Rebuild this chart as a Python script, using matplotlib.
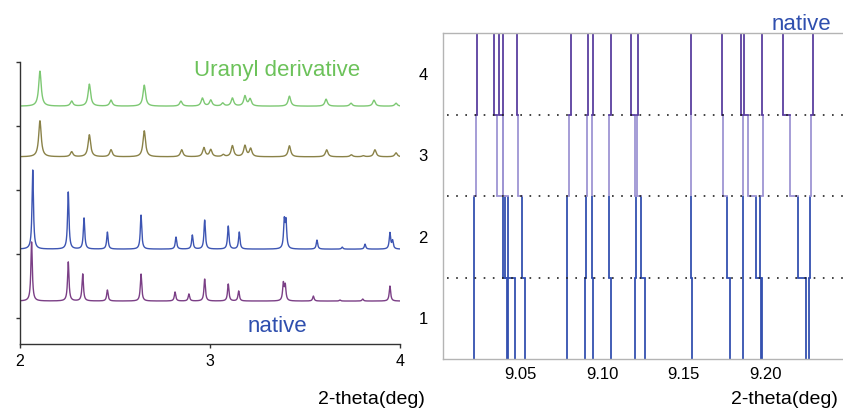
import numpy as np
import matplotlib.pyplot as plt

plt.rcParams['font.family'] = ['Liberation Sans', 'DejaVu Sans']

# ---- left panel: powder patterns (peak 2-theta, peak height in counts) ----
uranyl_pos = [2.105, 2.272, 2.365, 2.479, 2.654, 2.847, 2.960, 3.004, 3.067,
              3.118, 3.184, 3.211, 3.418, 3.611, 3.742, 3.863, 3.979]
uranyl_h = [35, 5, 22, 6, 21, 5, 8, 6, 3, 8, 10, 7, 10, 7, 3, 6, 3]

olive_pos = [2.105, 2.272, 2.365, 2.479, 2.654, 2.851, 2.968, 3.004, 3.070,
             3.118, 3.184, 3.214, 3.418, 3.614, 3.744, 3.807, 3.868, 3.979]
olive_h = [36, 5, 22, 7, 26, 7, 9, 7, 2, 11, 11, 8, 11, 7, 2, 1, 7, 4]

blue_pos = [2.067, 2.254, 2.337, 2.460, 2.637, 2.821, 2.907, 2.972, 3.096,
            3.154, 3.391, 3.400, 3.563, 3.696, 3.816, 3.947, 3.961]
blue_h = [79, 57, 31, 17, 34, 12, 14, 29, 23, 17, 27, 26, 9, 2, 5, 16, 8]

native_pos = [2.061, 2.254, 2.330, 2.460, 2.637, 2.816, 2.889, 2.972, 3.096,
              3.151, 3.386, 3.396, 3.544, 3.684, 3.804, 3.947]
native_h = [59, 39, 27, 11, 27, 9, 7, 22, 17, 10, 17, 15, 5, 1, 2, 15]

# ---- right panel: peak positions per row (rows 1..4), one entry per track ----
row1 = [9.0216, 9.0415, 9.0426, 9.0468, 9.0527, 9.0786, 9.0893, 9.0945, 9.1054,
        9.1201, 9.1264, 9.1552, 9.1783, 9.1861, 9.1971, 9.1981, 9.2247, 9.2269]
row2 = [9.0216, 9.0395, 9.0407, 9.0425, 9.0507, 9.0786, 9.0901, 9.0936, 9.1044,
        9.1207, 9.1235, 9.1542, 9.1762, 9.1861, 9.1942, 9.1967, 9.2202, 9.2273]
row3 = [9.0225, 9.0357, 9.0394, 9.0394, 9.0486, 9.0795, 9.0905, 9.0936, 9.1044,
        9.1201, 9.1213, 9.1542, 9.1742, 9.1861, 9.1892, 9.1983, 9.2151, 9.2279]
row4 = [9.0235, 9.0337, 9.0368, 9.0394, 9.0476, 9.0807, 9.0911, 9.0945, 9.1054,
        9.1175, 9.1221, 9.1544, 9.1734, 9.1851, 9.1869, 9.1981, 9.2110, 9.2292]
row_labels = ['1', '2', '3', '4']
x_ticks = [9.05, 9.10, 9.15, 9.20]


def pattern(x, pos, h, w):
    y = np.zeros_like(x)
    for p, a in zip(pos, h):
        y += a / (1 + ((x - p) / w) ** 2)
    return y


fig = plt.figure(figsize=(8.43, 4.08), dpi=100)

# left
ax1 = fig.add_axes([20 / 843, 64 / 408, 380 / 843, 282 / 408])
x = np.linspace(2, 4, 4000)
scale = 1 / 64.0
traces = [
    (uranyl_pos, uranyl_h, 0.008, 3.31, '#7dc873'),
    (olive_pos, olive_h, 0.008, 2.52, '#8a8248'),
    (blue_pos, blue_h, 0.0045, 1.08, '#3d55b3'),
    (native_pos, native_h, 0.0045, 0.27, '#7b3f86'),
]
for pos, h, w, off, col in traces:
    ax1.plot(x, off + pattern(x, pos, h, w) * scale, color=col, lw=1.0)

ax1.set_xlim(2, 4)
ax1.set_ylim(-0.4, 4.0)
ax1.set_xticks([2, 3, 4])
ax1.set_yticks([0, 1, 2, 3, 4])
ax1.set_yticklabels([])
ax1.spines['top'].set_visible(False)
ax1.spines['right'].set_visible(False)
for s in ('left', 'bottom'):
    ax1.spines[s].set_color('#333333')
    ax1.spines[s].set_linewidth(1.0)
ax1.tick_params(axis='both', direction='out', length=3, width=1.0,
                color='#333333', labelsize=11.5, pad=4)
ax1.text(3.353, 3.78, 'Uranyl derivative', color='#6cc25a', fontsize=16,
         ha='center', va='baseline')
ax1.text(3.353, -0.22, 'native', color='#2f4fae', fontsize=16,
         ha='center', va='baseline')

# right
ax2 = fig.add_axes([443 / 843, 49 / 408, 400 / 843, 326 / 408])
row_cols = ['#3450b0', '#3450b0', '#9e95d3', '#5b3f9f']
rows = [row1, row2, row3, row4]
for k, (r, col) in enumerate(zip(rows, row_cols)):
    ax2.vlines(r, k, k + 1, colors=col, lw=1.3)
    if k > 0:
        # small jog joining this row's track to the row below
        for xa, xb in zip(rows[k - 1], r):
            ax2.plot([xa, xb], [k, k], color=col, lw=1.3)
for k in (1, 2, 3):
    ax2.axhline(k, xmin=0.01, xmax=1, color='#222222', lw=1.2,
                linestyle=(0, (1, 4.5)))

ax2.set_xlim(9.0025, 9.2475)
ax2.set_ylim(0, 4)
ax2.set_xticks(x_ticks)
ax2.set_xticklabels(['%.2f' % t for t in x_ticks])
ax2.set_yticks([0.5, 1.5, 2.5, 3.5])
ax2.set_yticklabels(row_labels)
ax2.tick_params(axis='both', length=0, labelsize=12)
ax2.tick_params(axis='x', pad=6)
ax2.tick_params(axis='y', pad=11)
ax2.spines['right'].set_visible(False)
for s in ('left', 'top', 'bottom'):
    ax2.spines[s].set_color('#b4b4b4')
    ax2.spines[s].set_linewidth(1.0)
ax2.text(9.2218, 4.04, 'native', color='#2f4fae', fontsize=16,
         ha='center', va='baseline', clip_on=False)

fig.text(425 / 843, 4 / 408, '2-theta(deg)', fontsize=14, ha='right',
         va='baseline')
fig.text(838 / 843, 4 / 408, '2-theta(deg)', fontsize=14, ha='right',
         va='baseline')

fig.savefig('out.png', dpi=100)
